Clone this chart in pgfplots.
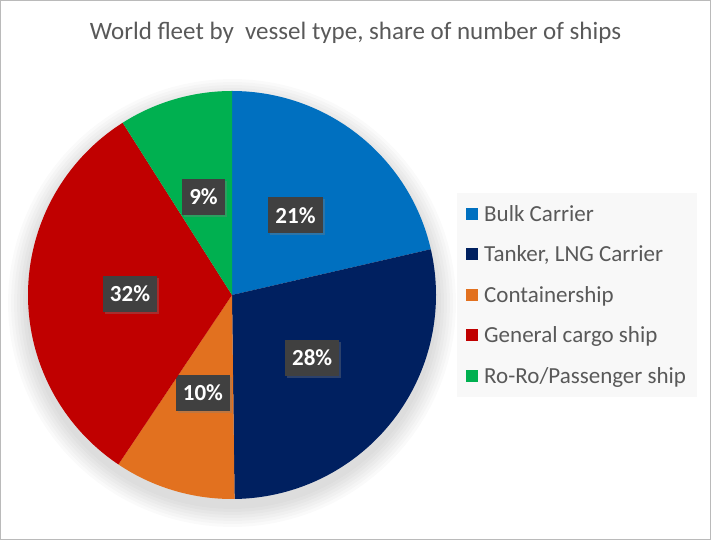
\documentclass[border=0pt]{standalone}
\usepackage{pgfplots}
\pgfplotsset{compat=1.18}
\usepackage{fontspec}
\setmainfont{Carlito}
\usetikzlibrary{shadows}
\definecolor{cBulk}{HTML}{0070C0}
\definecolor{cTank}{HTML}{002060}
\definecolor{cCont}{HTML}{E2711F}
\definecolor{cGen}{HTML}{C00000}
\definecolor{cRoRo}{HTML}{00B050}
\definecolor{txt}{HTML}{595959}
\definecolor{lab}{HTML}{404040}
\definecolor{legbg}{HTML}{F8F8F8}
\begin{document}
\begin{tikzpicture}
\begin{axis}[hide axis, scale only axis, width=711pt, height=540pt,
  xmin=0, xmax=711, ymin=0, ymax=540, clip=false,
  legend image code/.code={\fill[#1] (0pt,-6pt) rectangle (12pt,6pt); \path (16pt,0pt);},
  legend cell align=left,
  legend style={at={(axis cs:457,347)}, anchor=north west, fill=legbg, draw=none,
    font=\fontsize{23}{26}\selectfont, text=txt,
    inner xsep=9pt, inner ysep=10pt, row sep=19pt,
    nodes={inner sep=2pt, font=\fontsize{23}{26}\selectfont, text=txt}},
]
% soft shadow
\pgfplotsforeachungrouped \r in {206,209,212,215,218,221,224} {
  \edef\doshadow{\noexpand\addplot[forget plot, fill=black, fill opacity=0.018, draw=none, domain=0:360, samples=120] ({232+\r*cos(x)},{237+\r*sin(x)});}
  \doshadow
}
\xdef\start{90}
\foreach \v/\c/\n/\l in {21.4/cBulk/{Bulk Carrier}/21, 28.4/cTank/{Tanker, LNG Carrier}/28, 9.6/cCont/{Containership}/10, 31.6/cGen/{General cargo ship}/32, 9.0/cRoRo/{Ro-Ro/Passenger ship}/9} {
  \pgfmathsetmacro\stop{\start-3.6*\v}
  \pgfmathsetmacro\mid{(\start+\stop)/2}
  \pgfmathsetmacro\lx{232+102*cos(\mid)}
  \pgfmathsetmacro\ly{245+102*sin(\mid)}
  \edef\doplot{\noexpand\addplot[fill=\c, draw=none, domain=\stop:\start, samples=120] ({232+204*cos(x)},{245+204*sin(x)}) -- (axis cs:232,245) -- cycle;
    \noexpand\addlegendentry{\n}
    \noexpand\node[fill=lab, text=white, font=\noexpand\bfseries\noexpand\fontsize{23}{23}\noexpand\selectfont, minimum height=36pt, inner xsep=7pt, inner ysep=0pt, drop shadow={opacity=0.35, shadow xshift=2pt, shadow yshift=-2pt}] at (axis cs:\lx,\ly) {\l\noexpand\%};}
  \doplot
  \xdef\start{\stop}
}
\node[font=\fontsize{25}{28}\selectfont, text=txt] at (axis cs:355.5,507) {World fleet by\ \ vessel type, share of number of ships};
\draw[color=black!27, line width=1.2pt] (axis cs:0.6,0.6) rectangle (axis cs:710.4,539.4);
\end{axis}
\end{tikzpicture}
\end{document}
